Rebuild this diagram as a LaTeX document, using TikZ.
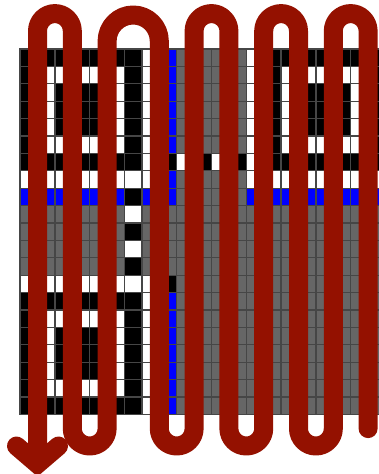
\documentclass[tikz,border=0pt]{standalone}
\definecolor{cK}{RGB}{0,0,0}
\definecolor{cW}{RGB}{255,255,255}
\definecolor{cB}{RGB}{0,0,255}
\definecolor{cG}{RGB}{102,102,102}
\definecolor{gridc}{RGB}{70,70,70}
\definecolor{pathred}{RGB}{148,17,0}
\tikzset{
  module/.style={draw=gridc, line width=1.3},
  scanpath/.style={draw=pathred, line width=19, line cap=round, line join=round},
  arrowv/.style={draw=pathred, line width=19, line cap=round, line join=miter}
}
\begin{document}
\begin{tikzpicture}[x=1pt,y=1pt]
\useasboundingbox (0,0) rectangle (379,474);
\begin{scope}
\clip (0,0) rectangle (379,474);
\foreach \rw [count=\r from 0] in {%
 {K,K,K,K,K,K,K,W,B,G,G,G,G,W,K,K,K,K,K,K,K},%
 {K,W,W,W,W,W,K,W,B,G,G,G,G,W,K,W,W,W,W,W,K},%
 {K,W,K,K,K,W,K,W,B,G,G,G,G,W,K,W,K,K,K,W,K},%
 {K,W,K,K,K,W,K,W,B,G,G,G,G,W,K,W,K,K,K,W,K},%
 {K,W,K,K,K,W,K,W,B,G,G,G,G,W,K,W,K,K,K,W,K},%
 {K,W,W,W,W,W,K,W,B,G,G,G,G,W,K,W,W,W,W,W,K},%
 {K,K,K,K,K,K,K,W,K,W,K,W,K,W,K,K,K,K,K,K,K},%
 {W,W,W,W,W,W,W,W,B,G,G,G,G,W,W,W,W,W,W,W,W},%
 {B,B,B,B,B,B,K,B,B,G,G,G,G,B,B,B,B,B,B,B,B},%
 {G,G,G,G,G,G,W,G,G,G,G,G,G,G,G,G,G,G,G,G,G},%
 {G,G,G,G,G,G,K,G,G,G,G,G,G,G,G,G,G,G,G,G,G},%
 {G,G,G,G,G,G,W,G,G,G,G,G,G,G,G,G,G,G,G,G,G},%
 {G,G,G,G,G,G,K,G,G,G,G,G,G,G,G,G,G,G,G,G,G},%
 {W,W,W,W,W,W,W,W,K,G,G,G,G,G,G,G,G,G,G,G,G},%
 {K,K,K,K,K,K,K,W,B,G,G,G,G,G,G,G,G,G,G,G,G},%
 {K,W,W,W,W,W,K,W,B,G,G,G,G,G,G,G,G,G,G,G,G},%
 {K,W,K,K,K,W,K,W,B,G,G,G,G,G,G,G,G,G,G,G,G},%
 {K,W,K,K,K,W,K,W,B,G,G,G,G,G,G,G,G,G,G,G,G},%
 {K,W,K,K,K,W,K,W,B,G,G,G,G,G,G,G,G,G,G,G,G},%
 {K,W,W,W,W,W,K,W,B,G,G,G,G,G,G,G,G,G,G,G,G},%
 {K,K,K,K,K,K,K,W,B,G,G,G,G,G,G,G,G,G,G,G,G}%
}{%
  \foreach \cc [count=\q from 0] in \rw {%
    \path[module, fill=c\cc] ({20.1+17.4*\q},{425-17.4*\r}) rectangle ++(17.4,-17.4);
  }%
}
% scanning path
\draw[scanpath] (368.1,45.4) -- (368.1,443)
  arc[start angle=0, end angle=180, radius=17.4] -- (333.3,45.4)
  arc[start angle=0, end angle=-180, radius=17.4] -- (298.5,443)
  arc[start angle=0, end angle=180, radius=17.4] -- (263.7,45.4)
  arc[start angle=0, end angle=-180, radius=17.4] -- (228.9,443)
  arc[start angle=0, end angle=180, radius=17.4] -- (194.1,45.4)
  arc[start angle=0, end angle=-180, radius=17.4] -- (159.3,432.9)
  arc[start angle=0, end angle=180, radius=26.1] -- (107.1,45.4)
  arc[start angle=0, end angle=-180, radius=17.4] -- (72.3,443)
  arc[start angle=0, end angle=180, radius=17.4] -- (37.5,20);
\draw[arrowv] (16.5,28) -- (37.5,10) -- (58.5,28);
\end{scope}
\end{tikzpicture}
\end{document}
